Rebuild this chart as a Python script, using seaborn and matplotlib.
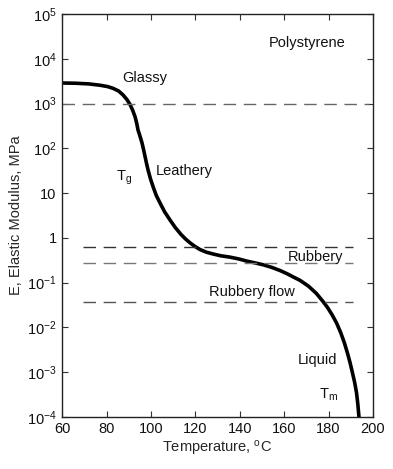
import matplotlib
matplotlib.use("Agg")
import matplotlib.pyplot as plt
import seaborn as sns
import pandas as pd
import numpy as np

# curve: temperature (C) and log10 of E (MPa)
temp = [60, 66, 72, 77.1, 80.5, 83.0, 85.5, 87.5, 89.2, 90.6, 91.8, 92.9, 93.6, 94.2, 95.1, 96.0, 96.7,
        97.4, 98.0, 98.7, 99.8, 101.0, 102.4, 104.1, 106.2, 108.6, 111.0, 113.5, 115.5, 117.6, 119.8,
        122.1, 125, 128, 131.5, 135.6, 139.5, 143.3, 147, 150.5, 154.5, 158.2, 161.3, 164, 167.2,
        171, 174.5, 177.5, 179.6, 181.5, 183.6, 185.5, 187.1, 188.5, 189.7, 190.8, 191.8, 192.6,
        193.2, 193.7]
logE = [3.46, 3.455, 3.44, 3.41, 3.38, 3.34, 3.28, 3.19, 3.09, 2.98, 2.85, 2.70, 2.56, 2.41, 2.27, 2.12, 1.97,
        1.81, 1.67, 1.52, 1.32, 1.14, 0.95, 0.78, 0.58, 0.40, 0.23, 0.08, -0.02, -0.11, -0.19,
        -0.26, -0.32, -0.36, -0.40, -0.43, -0.47, -0.52, -0.56, -0.60, -0.66, -0.73, -0.80, -0.87, -0.95,
        -1.08, -1.24, -1.42, -1.56, -1.71, -1.90, -2.12, -2.34, -2.57, -2.79, -3.02, -3.24, -3.46,
        -3.72, -4.0]

# dashed reference levels (MPa) and their x extent
levels = [1000, 0.63, 0.27, 0.037]
level_x0 = [60, 69.5, 69.5, 69.5]
level_x1 = [198, 191, 191, 191]
level_col = ["#666666", "#333333", "#777777", "#555555"]

labels = ["Polystyrene", "Glassy", "$\\mathrm{T_g}$", "Leathery", "Rubbery", "Rubbery flow", "Liquid", "$\\mathrm{T_m}$"]
label_x = [170.5, 97.4, 88, 115, 174, 145.5, 174.8, 180]
label_y = [10**4.35, 10**3.57, 10**1.35, 10**1.5, 10**-0.42, 10**-1.2, 10**-2.72, 10**-3.5]

yticks = [1e-4, 1e-3, 1e-2, 1e-1, 1, 10, 1e2, 1e3, 1e4, 1e5]
yticklabels = ["$\\mathregular{10^{-4}}$", "$\\mathregular{10^{-3}}$", "$\\mathregular{10^{-2}}$",
               "$\\mathregular{10^{-1}}$", "1", "10", "$\\mathregular{10^{2}}$", "$\\mathregular{10^{3}}$",
               "$\\mathregular{10^{4}}$", "$\\mathregular{10^{5}}$"]
xticks = [60, 80, 100, 120, 140, 160, 180, 200]

sns.set_style("ticks")
plt.rcParams['font.family'] = ['Liberation Sans', 'DejaVu Sans']
plt.rcParams['mathtext.fontset'] = 'custom'
plt.rcParams['mathtext.rm'] = 'Liberation Sans'
plt.rcParams['mathtext.it'] = 'Liberation Sans'

fig = plt.figure(figsize=(3.93, 4.69), dpi=100)
ax = fig.add_axes([0.158, 0.111, 0.791, 0.859])

df = pd.DataFrame({"T": temp, "E": np.power(10.0, logE)})
line = sns.lineplot(data=df, x="T", y="E", ax=ax, color="black", linewidth=2.6, sort=False)
line.lines[0].set_solid_joinstyle("round")

for lv, a, b, c in zip(levels, level_x0, level_x1, level_col):
    ax.plot([a, b], [lv, lv], color=c, linewidth=1.0, dashes=(9, 5.5))

for t, x, y in zip(labels, label_x, label_y):
    ax.text(x, y, t, ha="center", va="center", fontsize=10.5, color="#111111")

ax.set_yscale("log")
ax.set_xlim(60, 200)
ax.set_ylim(1e-4, 1e5)
ax.set_yticks(yticks)
ax.set_yticklabels(yticklabels)
ax.minorticks_off()
ax.set_xticks(xticks)
ax.tick_params(direction="in", length=4, width=0.8, top=True, right=True, labelsize=10.5, pad=4, colors="#333333",
               labelcolor="#111111")
for s in ax.spines.values():
    s.set_linewidth(1.0)
    s.set_color("#222222")
ax.set_xlabel("Temperature, $^{\\mathrm{o}}$C", fontsize=10.5, labelpad=2)
ax.set_ylabel("E, Elastic Modulus, MPa", fontsize=10.5, labelpad=3)

fig.savefig("out.png", dpi=100)
